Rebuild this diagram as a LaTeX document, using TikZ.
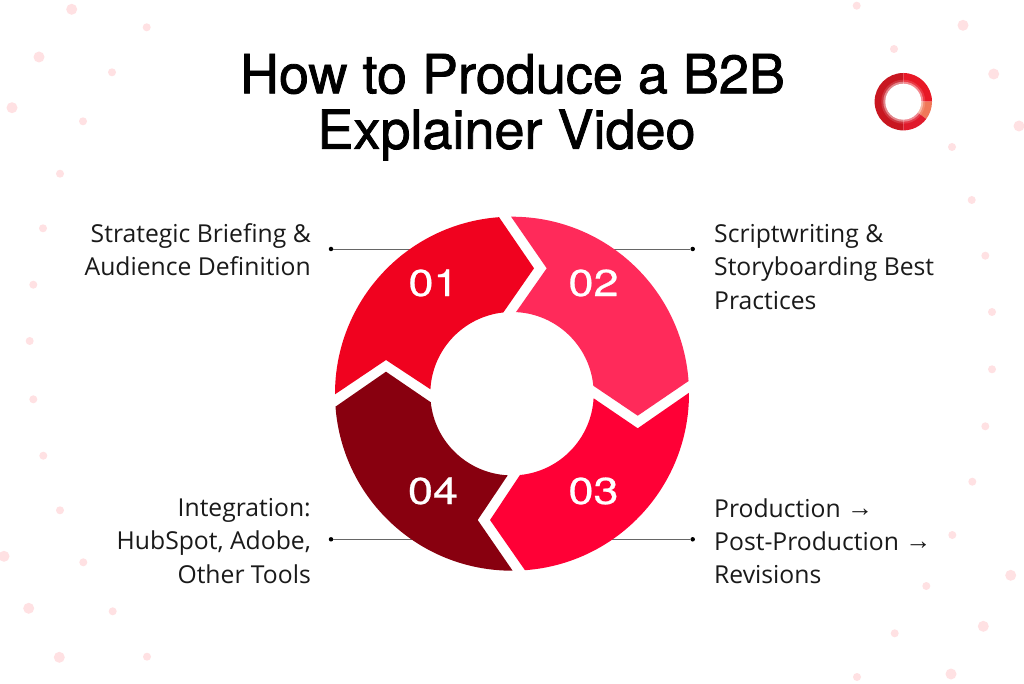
\documentclass[tikz,border=0pt]{standalone}
\usepackage{fontspec}
\usetikzlibrary{calc}
\setmainfont{Open Sans}
\newfontfamily\headfont{TeX Gyre Heros}
\newfontfamily\arrowfont{Liberation Sans}
\definecolor{segA}{HTML}{F0021F}
\definecolor{segB}{HTML}{FF2A5A}
\definecolor{segC}{HTML}{FF0036}
\definecolor{segD}{HTML}{88000F}
\definecolor{dotpink}{HTML}{FFE1E3}
\definecolor{ink}{HTML}{1A1A1A}
\newcommand{\strk}[2]{\special{pdf:code q 2 Tr #1 w}#2\special{pdf:code Q}}
\tikzset{
  x=1pt,y=1pt,
  num/.style={text=white,font=\headfont\fontsize{37.5}{37.5}\selectfont,anchor=center,inner sep=0pt,xscale=1.2,transform shape},
  lab/.style={text=ink,font=\fontsize{24.7}{33.1}\selectfont,inner sep=0pt},
  ttl/.style={text=black,font=\headfont\fontsize{54}{62}\selectfont,anchor=center,inner sep=0pt},
  pin/.style={circle,fill=black,inner sep=0pt,minimum size=4.5pt},
  lead/.style={draw=black!60!white,line width=0.9pt},
  sdot/.style={fill=dotpink,draw=none}
}
\newcommand{\arw}{{\arrowfont\fontsize{26}{26}\selectfont\raisebox{1pt}{→}}}
\begin{document}
\begin{tikzpicture}
\useasboundingbox (0,0) rectangle (1024,683);
\fill[white] (0,0) rectangle (1024,683);
% background dots (pixel coordinates, y down)
\foreach \px/\py in {71.7/9.3,39/57,12/107.7,4/556.3,28.7/608.3,59.3/657.3,963/25.3,993.7/74,1019/126,1010.7/575.3,983.3/626.3,951/674}
  \fill[sdot] (\px,683-\py) circle[radius=5.5pt];
\foreach \px/\py in {146.7/27.3,112/72.3,83/121.3,60/173.7,43/228.3,33.3/284.7,29.7/341,33.3/399.3,43.3/455.7,60/510.3,83.3/562.3,112.7/611.3,147/656.7,856.7/5.7,894/49,952/147,971.7/200,985.3/255.7,992/312,992/369.3,985.3/426.3,972.3/481.7,952.3/535,926.3/586,894.7/633.3,857/677}
  \fill[sdot] (\px,683-\py) circle[radius=4pt];
% logo
\coordinate (logo) at (903.3,581.3);
\fill[fill={rgb,255:red,200;green,22;blue,32}] (logo) -- ++(90:28.7pt) arc[start angle=90,end angle=270,radius=28.7pt] -- cycle;
\fill[fill={rgb,255:red,232;green,24;blue,38}] (logo) -- ++(90:28.7pt) arc[start angle=90,end angle=0,radius=28.7pt] -- cycle;
\fill[fill={rgb,255:red,240;green,120;blue,88}] (logo) -- ++(0:28.7pt) arc[start angle=0,end angle=-37,radius=28.7pt] -- cycle;
\fill[fill={rgb,255:red,224;green,26;blue,44}] (logo) -- ++(-37:28.7pt) arc[start angle=-37,end angle=-90,radius=28.7pt] -- cycle;
\fill[white,opacity=0.14] (logo) circle[radius=22pt];
\fill[white,opacity=0.4] (logo) circle[radius=20pt];
\fill[white] (logo) circle[radius=18pt];
% pins and leaders
\coordinate (c) at (512,289.3);
\node[pin] (p1) at (331,434) {};
\node[pin] (p2) at (692.7,434) {};
\node[pin] (p3) at (692.7,143.7) {};
\node[pin] (p4) at (331,143.7) {};
\coordinate (e1) at (420,434);
\coordinate (e2) at (604,434);
\coordinate (e3) at (604,143.7);
\coordinate (e4) at (420,143.7);
\draw[lead] (p1) -- (e1);
\draw[lead] (p2) -- (e2);
\draw[lead] (p3) -- (e3);
\draw[lead] (p4) -- (e4);
% ring segments
\fill[segA] ($(c)+(94.2:177pt)$) -- (534,414.7) -- ($(c)+(96.1:81.7pt)$) arc[start angle=96.1,end angle=176.9,radius=81.7pt] -- (386,323) -- ($(c)+(180.2:177pt)$) arc[start angle=180.2,end angle=94.2,radius=177pt] -- cycle;
\fill[segB] ($(c)+(90.3:177pt)$) -- (546.7,414.7) -- ($(c)+(87.2:81.7pt)$) arc[start angle=87.2,end angle=5.6,radius=81.7pt] -- (637.7,267.3) -- ($(c)+(4.1:177pt)$) arc[start angle=4.1,end angle=90.3,radius=177pt] -- cycle;
\fill[segC] ($(c)+(0.3:177pt)$) -- (637.7,254.7) -- ($(c)+(-3.2:81.7pt)$) arc[start angle=-3.2,end angle=-84.4,radius=81.7pt] -- (490,163) -- ($(c)+(-85.8:177pt)$) arc[start angle=-85.8,end angle=0.3,radius=177pt] -- cycle;
\fill[segD] ($(c)+(270.2:177pt)$) -- (477.7,163) -- ($(c)+(267:81.7pt)$) arc[start angle=267,end angle=186,radius=81.7pt] -- (386,311.3) -- ($(c)+(184.2:177pt)$) arc[start angle=184.2,end angle=270.2,radius=177pt] -- cycle;
% numbers
\node[num] (n1) at (433.5,400) {\strk{0.2}{01}};
\node[num] (n2) at (593.5,400) {\strk{0.2}{02}};
\node[num] (n3) at (593.5,192) {\strk{0.2}{03}};
\node[num] (n4) at (433,192) {\strk{0.2}{04}};
% title
\node[ttl] (title1) at (512.5,609) {\strk{0.8}{How to Produce a B2B}};
\node[ttl] (title2) at (506.5,548) {\strk{0.8}{Explainer Video}};
% labels
\node[lab,anchor=east,align=right] (l1) at (311,433) {Strategic Briefing \&\\Audience Definition};
\node[lab,anchor=west,align=left] (l2) at (714,416) {Scriptwriting \&\\Storyboarding Best\\Practices};
\node[lab,anchor=west,align=left] (l3) at (714,142) {Production \arw\\Post-Production \arw\\Revisions};
\node[lab,anchor=east,align=right] (l4) at (311,142) {Integration:\\HubSpot, Adobe,\\Other Tools};
\end{tikzpicture}
\end{document}
